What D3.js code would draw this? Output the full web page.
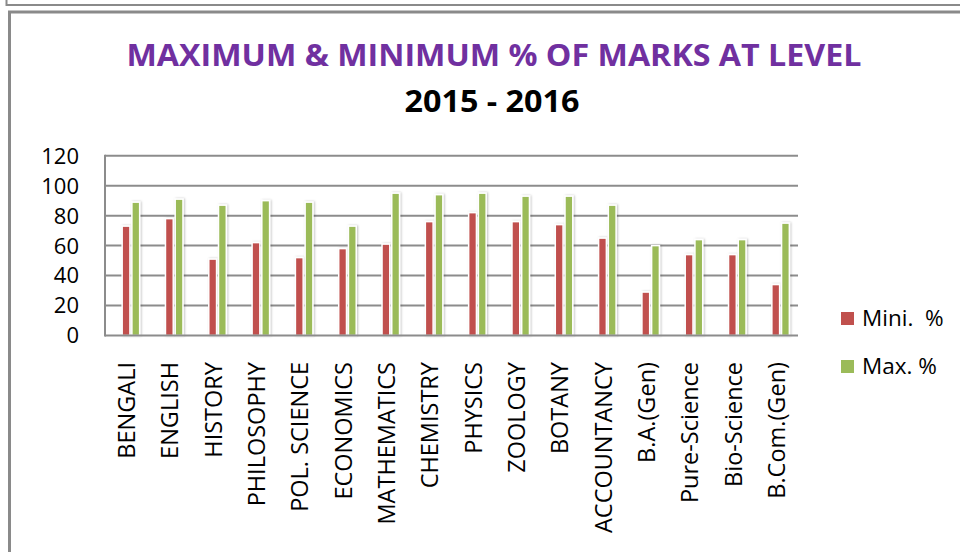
<!DOCTYPE html>
<html>
<head>
<meta charset="utf-8">
<script src="https://cdn.jsdelivr.net/npm/d3@7"></script>
<style>
  body { margin: 0; background: #fff; }
  svg { display: block; font-family: "Open Sans", sans-serif; }
</style>
</head>
<body>
<svg width="960" height="552"></svg>
<script>
const subjects = ["BENGALI", "ENGLISH", "HISTORY", "PHILOSOPHY", "POL. SCIENCE", "ECONOMICS",
  "MATHEMATICS", "CHEMISTRY", "PHYSICS", "ZOOLOGY", "BOTANY", "ACCOUNTANCY",
  "B.A.(Gen)", "Pure-Science", "Bio-Science", "B.Com.(Gen)"];
const miniPct = [73, 78, 51, 62, 52, 58, 61, 76, 82, 76, 74, 65, 29, 54, 54, 34];
const maxPct  = [89, 91, 87, 90, 89, 73, 95, 94, 95, 93, 93, 87, 60, 64, 64, 75];
const seriesNames = ["Mini.  %", "Max. %"];
const yTicks = [0, 20, 40, 60, 80, 100, 120];

const colors = ["#C0504D", "#9BBB59"];

function draw() {
    let svg = d3.select("svg");

    // frames (previous chart bottom edge + this chart's border)
    svg.append("rect")
        .attr("x", 6.5).attr("y", -20).attr("width", 1000).attr("height", 25)
        .attr("fill", "none").attr("stroke", "#8a8a8a").attr("stroke-width", 2);
    svg.append("rect")
        .attr("x", 9.5).attr("y", 12).attr("width", 1000).attr("height", 600)
        .attr("fill", "#fff").attr("stroke", "#8a8a8a").attr("stroke-width", 3);

    let defs = svg.append("defs");
    defs.append("filter").attr("id", "shadow")
        .attr("x", "-50%").attr("y", "-10%").attr("width", "200%").attr("height", "120%")
        .append("feDropShadow")
        .attr("dx", 1).attr("dy", 0).attr("stdDeviation", 1)
        .attr("flood-color", "#000").attr("flood-opacity", 0.25);

    // titles
    svg.append("text")
        .attr("x", 494).attr("y", 66)
        .attr("text-anchor", "middle")
        .attr("font-size", 31).attr("font-weight", "bold")
        .attr("fill", "#7030A0")
        .attr("textLength", 735).attr("lengthAdjust", "spacingAndGlyphs")
        .text("MAXIMUM & MINIMUM % OF MARKS AT LEVEL");
    svg.append("text")
        .attr("x", 492).attr("y", 111.5)
        .attr("text-anchor", "middle")
        .attr("font-size", 31).attr("font-weight", "bold")
        .attr("fill", "#000")
        .attr("textLength", 175).attr("lengthAdjust", "spacingAndGlyphs")
        .text("2015 - 2016");

    let x = d3.scaleBand().domain(subjects).range([105, 798]);
    let xSub = d3.scaleBand().domain([0, 1]).range([-4.5, 13]).paddingInner(0.2);
    let y = d3.scaleLinear().domain([0, 120]).range([335.5, 155.7]);

    // gridlines
    svg.append("g")
        .selectAll("line")
        .data(yTicks.filter(d => d > 0))
        .enter()
        .append("line")
        .attr("x1", 105).attr("x2", 798)
        .attr("y1", d => y(d)).attr("y2", d => y(d))
        .attr("stroke", "#8c8c8c").attr("stroke-width", 2);

    // y labels
    svg.append("g")
        .selectAll("text")
        .data(yTicks)
        .enter()
        .append("text")
        .attr("x", 79)
        .attr("y", d => y(d))
        .attr("dy", "0.36em")
        .attr("text-anchor", "end")
        .attr("font-size", 22)
        .attr("fill", "#000")
        .text(d => d);

    // bars
    let rows = subjects.map((s, i) => ({ s: s, v: [miniPct[i], maxPct[i]] }));
    let groups = svg.append("g")
        .selectAll("g")
        .data(rows)
        .enter()
        .append("g")
        .attr("transform", d => `translate(${x(d.s) + x.bandwidth() / 2},0)`);

    groups.selectAll("rect")
        .data(d => d.v.map((v, k) => ({ k: k, v: v })))
        .enter()
        .append("rect")
        .attr("x", d => xSub(d.k))
        .attr("width", xSub.bandwidth())
        .attr("y", d => y(d.v))
        .attr("height", d => y(0) - y(d.v))
        .attr("fill", d => colors[d.k])
        .attr("stroke", "#fff")
        .attr("stroke-width", 1.5)
        .attr("filter", "url(#shadow)");

    // axes lines
    svg.append("line")
        .attr("x1", 105).attr("x2", 798).attr("y1", y(0)).attr("y2", y(0))
        .attr("stroke", "#8c8c8c").attr("stroke-width", 2);
    svg.append("line")
        .attr("x1", 105).attr("x2", 105).attr("y1", y(120) - 1).attr("y2", y(0) + 1)
        .attr("stroke", "#8c8c8c").attr("stroke-width", 2);

    // x labels
    svg.append("g")
        .selectAll("text")
        .data(subjects)
        .enter()
        .append("text")
        .attr("transform", d => `translate(${x(d) + x.bandwidth() / 2},362) rotate(-90)`)
        .attr("dy", "0.36em")
        .attr("text-anchor", "end")
        .attr("font-size", 23.5)
        .attr("fill", "#000")
        .text(d => d);

    // legend
    let legend = svg.append("g")
        .selectAll("g")
        .data(seriesNames)
        .enter()
        .append("g")
        .attr("transform", (d, i) => `translate(841,${312 + i * 48})`);
    legend.append("rect")
        .attr("width", 13).attr("height", 13)
        .attr("fill", (d, i) => colors[i]);
    legend.append("text")
        .attr("x", 21).attr("y", 13.5)
        .attr("font-size", 22.5)
        .style("white-space", "pre")
        .attr("fill", "#000")
        .text(d => d);
}

draw();
</script>
</body>
</html>
